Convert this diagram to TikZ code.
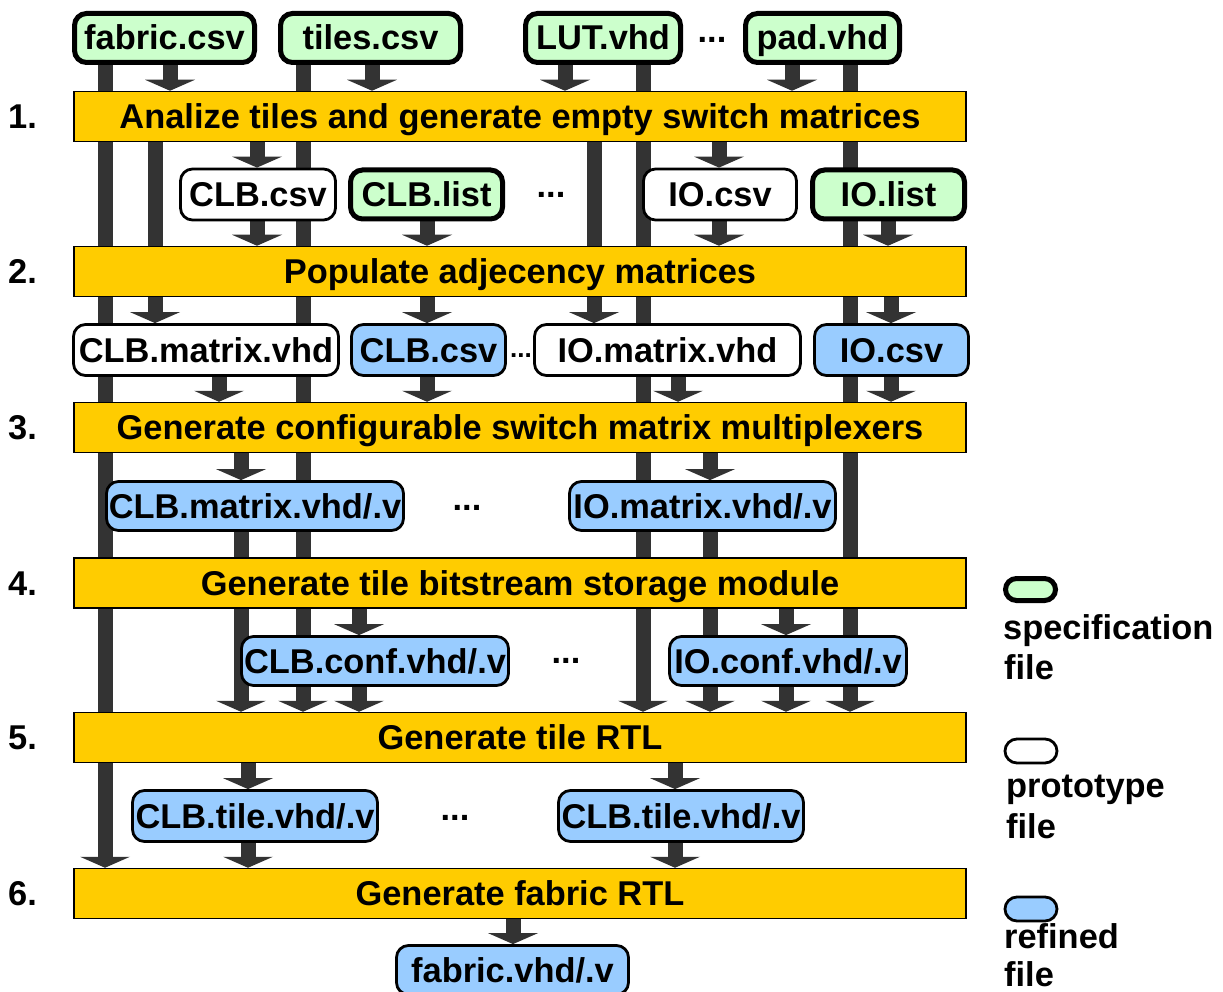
\documentclass[tikz,border=0pt]{standalone}
\usepackage{fontspec}
\setmainfont{Liberation Sans}
\usetikzlibrary{arrows.meta,backgrounds}

\definecolor{specfill}{HTML}{CCFFCC}
\definecolor{reffill}{HTML}{99CCFF}
\definecolor{stepfill}{HTML}{FFCC00}
\definecolor{flow}{HTML}{333333}

\begin{document}
\begin{tikzpicture}[
  x=1pt, y=-1pt,
  font=\fontsize{34.4}{40}\selectfont\bfseries,
  filebox/.style={draw=black, rounded corners=12pt, inner sep=0pt,
    text height=24pt, text depth=0pt, minimum height=51pt},
  spec/.style={filebox, fill=specfill, line width=5pt, minimum height=49pt},
  proto/.style={filebox, fill=white, line width=2.8pt},
  refined/.style={filebox, fill=reffill, line width=2.8pt},
  stepbar/.style={draw=black, fill=stepfill, line width=1.5pt,
    minimum width=892pt, minimum height=50pt, inner sep=0pt,
    text height=24pt, text depth=0pt},
  stepnum/.style={anchor=west, inner sep=0pt, text height=24pt, text depth=0pt},
  dots/.style={anchor=base, inner sep=0pt},
  legpill/.style={text height=0pt, text depth=0pt, minimum width=52pt,
    minimum height=24pt, rounded corners=12pt},
  legtext/.style={anchor=west, inner sep=0pt, text height=24pt, text depth=0pt},
  flowarrow/.style={draw=flow, line width=15pt,
    -{Triangle[width=50pt, length=11pt, line width=0pt]}}
]
\useasboundingbox (0,0) rectangle (1223,992);

% process steps
\node[stepbar] (s1) at (520,116.5) {Analize tiles and generate empty switch matrices};
\node[stepbar] (s2) at (520,271.5) {Populate adjecency matrices};
\node[stepbar] (s3) at (520,427.5) {Generate configurable switch matrix multiplexers};
\node[stepbar] (s4) at (520,583)   {Generate tile bitstream storage module};
\node[stepbar] (s5) at (520,737.5) {Generate tile RTL};
\node[stepbar] (s6) at (520,893.5) {Generate fabric RTL};

\node[stepnum] (n1) at (8,116.5) {1.};
\node[stepnum] (n2) at (8,271.5) {2.};
\node[stepnum] (n3) at (8,427.5) {3.};
\node[stepnum] (n4) at (8,583)   {4.};
\node[stepnum] (n5) at (8,737.5) {5.};
\node[stepnum] (n6) at (8,893.5) {6.};

% input specification files
\node[spec, minimum width=180pt] (fabriccsv) at (164.5,38) {fabric.csv};
\node[spec, minimum width=180pt] (tilescsv)  at (370.5,38) {tiles.csv};
\node[spec, minimum width=155pt] (lutvhd)    at (603,38)   {LUT.vhd};
\node[dots] (dots0) at (712,43) {...};
\node[spec, minimum width=154pt] (padvhd)    at (822.5,38) {pad.vhd};

% after step 1
\node[proto, minimum width=155pt] (clbcsv)  at (258,194.5)   {CLB.csv};
\node[spec,  minimum width=152pt] (clblist) at (426.5,194.5) {CLB.list};
\node[dots] (dots1) at (551,198) {...};
\node[proto, minimum width=153pt] (iocsv)   at (720,194.5)   {IO.csv};
\node[spec,  minimum width=152pt] (iolist)  at (888.5,194.5) {IO.list};

% after step 2
\node[proto,   minimum width=265pt] (clbmat)  at (206,350)   {CLB.matrix.vhd};
\node[refined, minimum width=154pt] (clbcsvr) at (428.5,350) {CLB.csv};
\node[dots, font=\fontsize{26}{30}\selectfont\bfseries] (dots2) at (521,357) {...};
\node[proto,   minimum width=266pt] (iomat)   at (667.5,350) {IO.matrix.vhd};
\node[refined, minimum width=154pt] (iocsvr)  at (891.5,350) {IO.csv};

% after step 3
\node[refined, minimum width=297pt, minimum height=49pt] (clbmatv) at (255,506)   {CLB.matrix.vhd/.v};
\node[dots] (dots3) at (467,510) {...};
\node[refined, minimum width=266pt, minimum height=49pt] (iomatv)  at (702.5,506) {IO.matrix.vhd/.v};

% after step 4
\node[refined, minimum width=267pt, minimum height=49pt] (clbconf) at (375,661) {CLB.conf.vhd/.v};
\node[dots] (dots4) at (566,663) {...};
\node[refined, minimum width=237pt, minimum height=49pt] (ioconf)  at (788,661) {IO.conf.vhd/.v};

% after step 5
\node[refined, minimum width=245pt] (tileL) at (255,816) {CLB.tile.vhd/.v};
\node[dots] (dots5) at (455,820) {...};
\node[refined, minimum width=245pt] (tileR) at (681,816) {CLB.tile.vhd/.v};

% after step 6
\node[refined, minimum width=232pt, minimum height=49pt] (fabricv) at (512.5,970) {fabric.vhd/.v};

% legend
\node[spec, legpill, minimum width=50pt, minimum height=22pt, rounded corners=11pt] (legspec) at (1030.5,589.5) {};
\node[legtext] (legspecA) at (1003,627) {specification};
\node[legtext] (legspecB) at (1004,667) {file};
\node[proto, legpill] (legproto) at (1031,751) {};
\node[legtext] (legprotoA) at (1006,785) {prototype};
\node[legtext] (legprotoB) at (1006,826) {file};
\node[refined, legpill] (legref) at (1031,909) {};
\node[legtext] (legrefA) at (1004,936) {refined};
\node[legtext] (legrefB) at (1004,974) {file};

% column positions of the data flows
\coordinate (cA) at (105,0);
\coordinate (cB) at (170,0);
\coordinate (cC) at (303,0);
\coordinate (cD) at (372,0);
\coordinate (cE) at (565,0);
\coordinate (cF) at (643,0);
\coordinate (cG) at (792,0);
\coordinate (cH) at (850,0);
\coordinate (cI) at (155,0);
\coordinate (cJ) at (257,0);
\coordinate (cK) at (594,0);
\coordinate (cL) at (719,0);
\coordinate (cM) at (427,0);
\coordinate (cN) at (888,0);
\coordinate (cP) at (891,0);
\coordinate (cQ) at (219,0);
\coordinate (cR) at (678,0);
\coordinate (cS) at (241,0);
\coordinate (cT) at (710,0);
\coordinate (cU) at (359,0);
\coordinate (cV) at (786,0);
\coordinate (cW) at (248,0);
\coordinate (cX) at (675,0);
\coordinate (cY) at (513,0);

\begin{pgfonlayer}{background}
  % inputs
  \draw[flowarrow] (fabriccsv.south -| cA) -- (s6.north -| cA);
  \draw[flowarrow] (fabriccsv.south -| cB) -- (s1.north -| cB);
  \draw[flowarrow] (tilescsv.south -| cC) -- (s5.north -| cC);
  \draw[flowarrow] (tilescsv.south -| cD) -- (s1.north -| cD);
  \draw[flowarrow] (lutvhd.south -| cE) -- (s1.north -| cE);
  \draw[flowarrow] (lutvhd.south -| cF) -- (s5.north -| cF);
  \draw[flowarrow] (padvhd.south -| cG) -- (s1.north -| cG);
  \draw[flowarrow] (padvhd.south -| cH) -- (s5.north -| cH);
  % step 1
  \draw[flowarrow] (s1.south -| cI) -- (clbmat.north -| cI);
  \draw[flowarrow] (s1.south -| cJ) -- (clbcsv.north -| cJ);
  \draw[flowarrow] (s1.south -| cK) -- (iomat.north -| cK);
  \draw[flowarrow] (s1.south -| cL) -- (iocsv.north -| cL);
  % step 2
  \draw[flowarrow] (clbcsv.south -| cJ) -- (s2.north -| cJ);
  \draw[flowarrow] (clblist.south -| cM) -- (s2.north -| cM);
  \draw[flowarrow] (iocsv.south -| cL) -- (s2.north -| cL);
  \draw[flowarrow] (iolist.south -| cN) -- (s2.north -| cN);
  \draw[flowarrow] (s2.south -| cM) -- (clbcsvr.north -| cM);
  \draw[flowarrow] (s2.south -| cP) -- (iocsvr.north -| cP);
  % step 3
  \draw[flowarrow] (clbmat.south -| cQ) -- (s3.north -| cQ);
  \draw[flowarrow] (clbcsvr.south -| cM) -- (s3.north -| cM);
  \draw[flowarrow] (iomat.south -| cR) -- (s3.north -| cR);
  \draw[flowarrow] (iocsvr.south -| cP) -- (s3.north -| cP);
  \draw[flowarrow] (s3.south -| cS) -- (clbmatv.north -| cS);
  \draw[flowarrow] (s3.south -| cT) -- (iomatv.north -| cT);
  % step 4
  \draw[flowarrow] (s4.south -| cU) -- (clbconf.north -| cU);
  \draw[flowarrow] (s4.south -| cV) -- (ioconf.north -| cV);
  % step 5
  \draw[flowarrow] (clbmatv.south -| cS) -- (s5.north -| cS);
  \draw[flowarrow] (iomatv.south -| cT) -- (s5.north -| cT);
  \draw[flowarrow] (clbconf.south -| cU) -- (s5.north -| cU);
  \draw[flowarrow] (ioconf.south -| cV) -- (s5.north -| cV);
  \draw[flowarrow] (s5.south -| cW) -- (tileL.north -| cW);
  \draw[flowarrow] (s5.south -| cX) -- (tileR.north -| cX);
  % step 6
  \draw[flowarrow] (tileL.south -| cW) -- (s6.north -| cW);
  \draw[flowarrow] (tileR.south -| cX) -- (s6.north -| cX);
  \draw[flowarrow] (s6.south -| cY) -- (fabricv.north -| cY);
\end{pgfonlayer}
\end{tikzpicture}
\end{document}
